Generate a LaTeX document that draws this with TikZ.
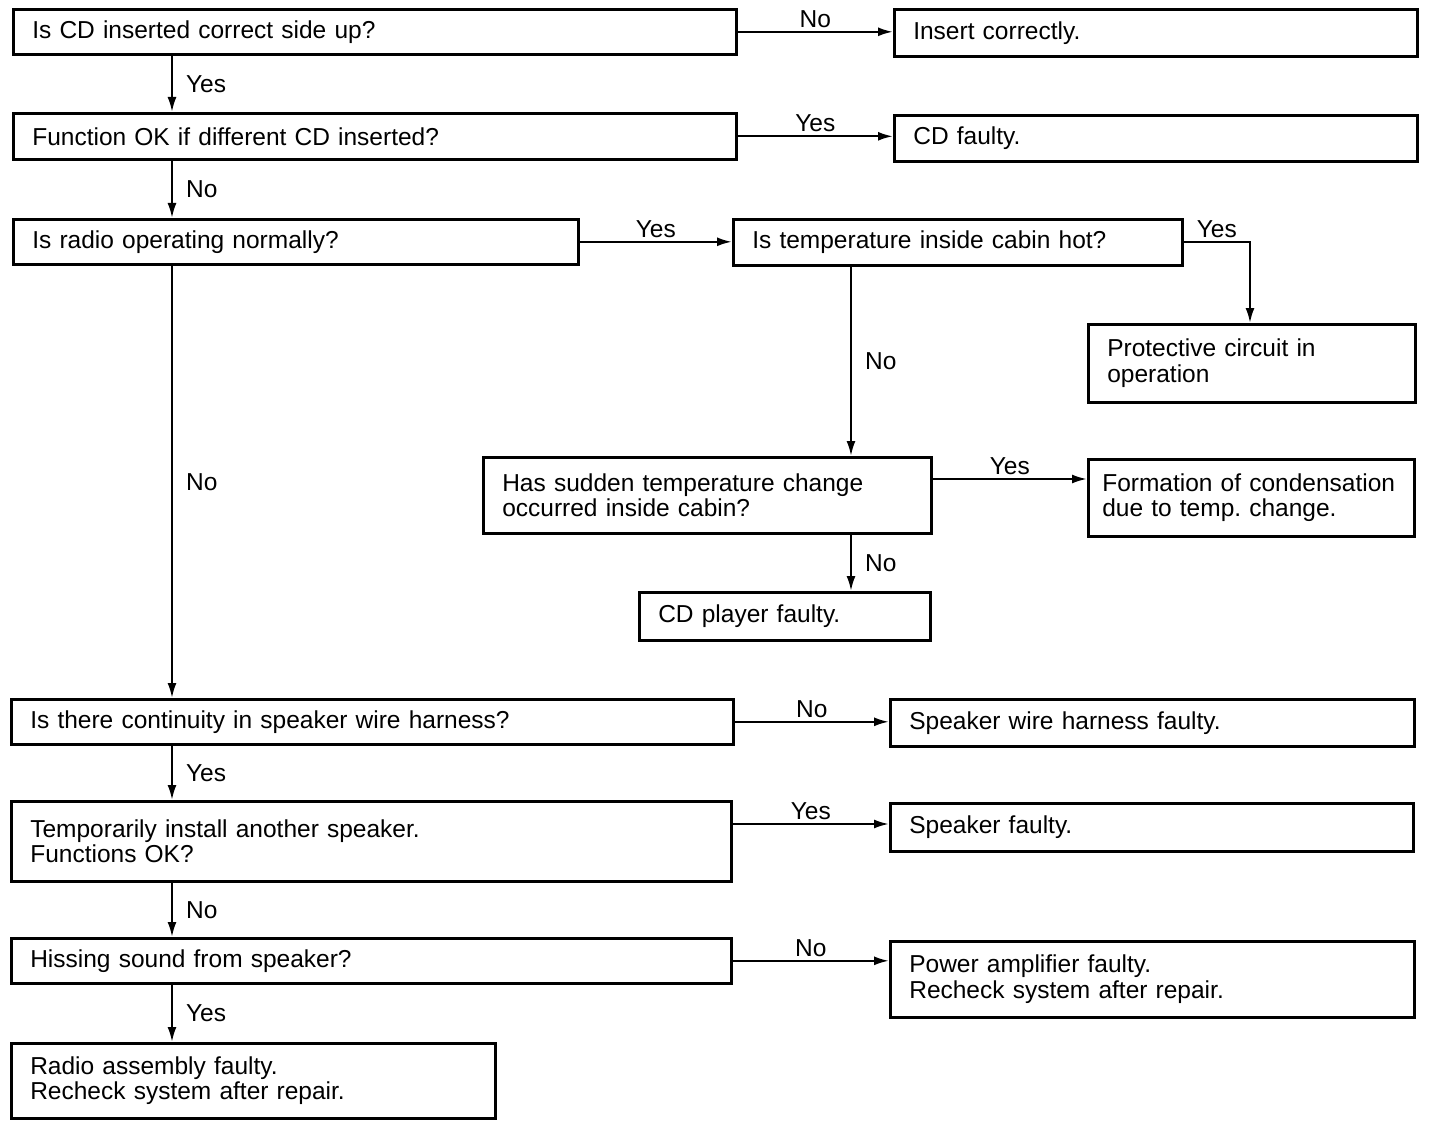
\documentclass[tikz,border=0pt]{standalone}
\usepackage{fontspec}
\setmainfont{Liberation Sans}
\usetikzlibrary{calc}
\usetikzlibrary{arrows.meta}
\frenchspacing

\begin{document}
\begin{tikzpicture}[x=1pt, y=-1pt,
	every node/.style={font=\fontsize{24.5}{25.5}\selectfont},
	qbox/.style={draw, line width=2.6pt, anchor=north west, align=left, inner xsep=19pt, inner ysep=0pt},
	arr/.style={line width=2.2pt, -{Latex[length=15pt, width=9pt]}},
	lblup/.style={midway, above, inner sep=3pt},
	lblrt/.style={midway, right, inner xsep=13pt}]
	\useasboundingbox (0,0) rectangle (1440,1126);
	
	% Columns of the vertical connectors
	\coordinate (colA) at (172,0);
	\coordinate (colB) at (851,0);
	\coordinate (colC) at (1250,0);
	
	% Question boxes
	\node[qbox, text width=685pt, minimum height=45pt] (q1) at (12,8) {Is CD inserted correct side up?};
	\node[qbox, text width=685pt, minimum height=46pt] (q2) at (12,112) {Function OK if different CD inserted?};
	\node[qbox, text width=527pt, minimum height=45pt] (q3) at (12,218) {Is radio operating normally?};
	\node[qbox, text width=411pt, minimum height=46pt] (q4) at (732,218) {Is temperature inside cabin hot?};
	\node[qbox, text width=410pt, minimum height=76pt] (q5) at (482,456) {Has sudden temperature change\\occurred inside cabin?};
	\node[qbox, text width=684pt, minimum height=45pt] (q6) at (10,698) {Is there continuity in speaker wire harness?};
	\node[qbox, text width=682pt, minimum height=80pt] (q7) at (10,800) {Temporarily install another speaker.\\Functions OK?};
	\node[qbox, text width=682pt, minimum height=45pt] (q8) at (10,937) {Hissing sound from speaker?};
	
	% Result boxes
	\node[qbox, text width=485pt, minimum height=47pt] (r1) at (893,8) {Insert correctly.};
	\node[qbox, text width=485pt, minimum height=46pt] (r2) at (893,114) {CD faulty.};
	\node[qbox, text width=289pt, minimum height=78pt] (r3) at (1087,323) {Protective circuit in\\operation};
	\node[qbox, text width=298pt, minimum height=77pt, inner xsep=14pt] (r4) at (1087,458) {Formation of condensation\\due to temp. change.};
	\node[qbox, text width=253pt, minimum height=48pt] (r5) at (638,591) {CD player faulty.};
	\node[qbox, text width=486pt, minimum height=47pt] (r6) at (889,698) {Speaker wire harness faulty.};
	\node[qbox, text width=485pt, minimum height=48pt] (r7) at (889,802) {Speaker faulty.};
	\node[qbox, text width=486pt, minimum height=76pt] (r8) at (889,940) {Power amplifier faulty.\\Recheck system after repair.};
	\node[qbox, text width=446pt, minimum height=75pt] (r9) at (10,1042) {Radio assembly faulty.\\Recheck system after repair.};
	
	% Main column
	\draw[arr] (q1.south -| colA) -- node[lblrt] {Yes} (q2.north -| colA);
	\draw[arr] (q2.south -| colA) -- node[lblrt] {No} (q3.north -| colA);
	\draw[arr] (q3.south -| colA) -- node[lblrt] {No} (q6.north -| colA);
	\draw[arr] (q6.south -| colA) -- node[lblrt] {Yes} (q7.north -| colA);
	\draw[arr] (q7.south -| colA) -- node[lblrt] {No} (q8.north -| colA);
	\draw[arr] (q8.south -| colA) -- node[lblrt] {Yes} (r9.north -| colA);
	
	% Branches to the right
	\draw[arr] (q1.east) -- node[lblup] {No} (q1.east -| r1.west);
	\draw[arr] (q2.east) -- node[lblup] {Yes} (q2.east -| r2.west);
	\draw[arr] (q3.east) -- node[lblup] {Yes} (q3.east -| q4.west);
	\draw[arr] (q4.east) -| node[pos=0.25, above, inner sep=3pt] {Yes} (r3.north -| colC);
	\draw[arr] (q4.south -| colB) -- node[lblrt] {No} (q5.north -| colB);
	\coordinate (q5a) at ($(q5.north east)+(0,23)$);
	\draw[arr] (q5a) -- node[lblup] {Yes} (q5a -| r4.west);
	\draw[arr] (q5.south -| colB) -- node[lblrt] {No} (r5.north -| colB);
	\draw[arr] (q6.east) -- node[lblup] {No} (q6.east -| r6.west);
	\coordinate (q7a) at ($(q7.north east)+(0,24)$);
	\draw[arr] (q7a) -- node[lblup] {Yes} (q7a -| r7.west);
	\draw[arr] (q8.east) -- node[lblup] {No} (q8.east -| r8.west);
\end{tikzpicture}
\end{document}
